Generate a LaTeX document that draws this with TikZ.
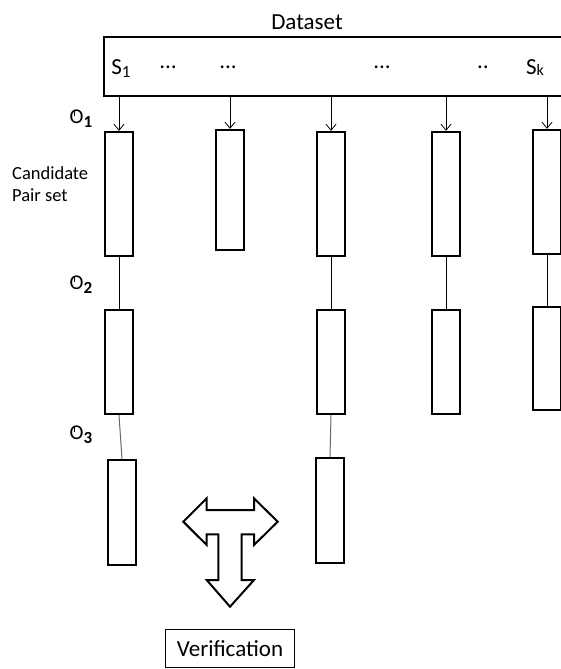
\documentclass[tikz,border=0pt]{standalone}
\usepackage{fontspec}
\setmainfont{Carlito}
\usetikzlibrary{arrows.meta}
\newcommand{\tickO}{\rlap{\hspace{4pt}\raisebox{7.8pt}{\rule{1.4pt}{5pt}}}O}
\begin{document}
\begin{tikzpicture}[x=1pt,y=-1pt,
 colbox/.style={draw, line width=2.3pt, minimum width=28pt, inner sep=0pt},
 feed/.style={-{Straight Barb[length=6pt,width=10pt,line width=0.8pt]}, line width=0.8pt},
 link/.style={line width=0.9pt},
 glink/.style={line width=1pt, draw=black!60},
 big/.style={font=\fontsize{23}{26}\selectfont, inner sep=0pt},
 olbl/.style={font=\fontsize{21}{24}\selectfont, inner sep=0pt},
]
\useasboundingbox (0,0) rectangle (561,669);
% dataset
\node[big] (dt) at (307,22) {Dataset};
\node[draw, line width=2.5pt, minimum width=476pt, minimum height=59pt, inner sep=0pt] (ds) at (342,66.5) {};
\node[big] (s1) at (121,69) {S\raisebox{-3pt}{\fontsize{17}{17}\selectfont 1}};
\node[big] (d1) at (168,67) {...};
\node[big] (d2) at (228,67) {...};
\node[big] (d3) at (382,67) {...};
\node[big] (d4) at (483,67) {..};
\node[big] (sk) at (535,68) {S\raisebox{-1pt}{\fontsize{16}{16}\selectfont k}};
% row 1
\node[colbox, minimum height=124pt] (c11) at (119,194) {};
\node[colbox, minimum height=120pt] (c21) at (230,190) {};
\node[colbox, minimum height=124pt] (c31) at (331,194) {};
\node[colbox, minimum height=124pt] (c41) at (446,194) {};
\node[colbox, minimum height=124pt] (c51) at (547,192) {};
% row 2
\node[colbox, minimum height=104pt] (c12) at (119,362) {};
\node[colbox, minimum height=104pt] (c32) at (331,362) {};
\node[colbox, minimum height=104pt] (c42) at (446,362) {};
\node[colbox, minimum height=103pt] (c52) at (547,358.5) {};
% row 3
\node[colbox, minimum height=105pt] (c13) at (122,512.5) {};
\node[colbox, minimum height=105pt] (c33) at (330,510.5) {};
% feeds
\foreach \c in {c11,c21,c31,c41,c51}
  \draw[feed] (ds.south -| \c) -- (\c.north);
% links
\draw[link] (c11.south) -- (c12.north);
\draw[link] (c31.south) -- (c32.north);
\draw[link] (c41.south) -- (c42.north);
\draw[link] (c51.south) -- (c52.north);
\draw[glink] (c12.south) -- (c13.north);
\draw[glink] (c32.south) -- (c33.north);
% labels
\node[olbl] (o1) at (81,119) {\tickO\raisebox{-4pt}{\fontsize{17}{17}\selectfont\bfseries 1}};
\node[olbl] (o2) at (81,285) {\tickO\raisebox{-4pt}{\fontsize{17}{17}\selectfont\bfseries 2}};
\node[olbl] (o3) at (81,435) {\tickO\raisebox{-4pt}{\fontsize{17}{17}\selectfont\bfseries 3}};
\node[font=\fontsize{18.5}{22}\selectfont, align=left, anchor=west, inner sep=0pt] (cp) at (12,184) {Candidate\\Pair set};
% T arrow
\draw[line width=2pt, line join=miter] (183.3,521.7) -- (206.7,498.3) -- (206.7,510) -- (254,510) -- (254,498.3) -- (277.7,521.7) -- (254,545) -- (254,534.3) -- (241.7,534.3) -- (241.7,580) -- (254,580) -- (230,606.7) -- (206.7,580) -- (218.3,580) -- (218.3,534.3) -- (206.7,534.3) -- (206.7,545) -- cycle;
% verification
\node[draw, line width=1.3pt, minimum width=129pt, minimum height=38pt, big] (vf) at (230,648.5) {Verification};
\end{tikzpicture}
\end{document}
